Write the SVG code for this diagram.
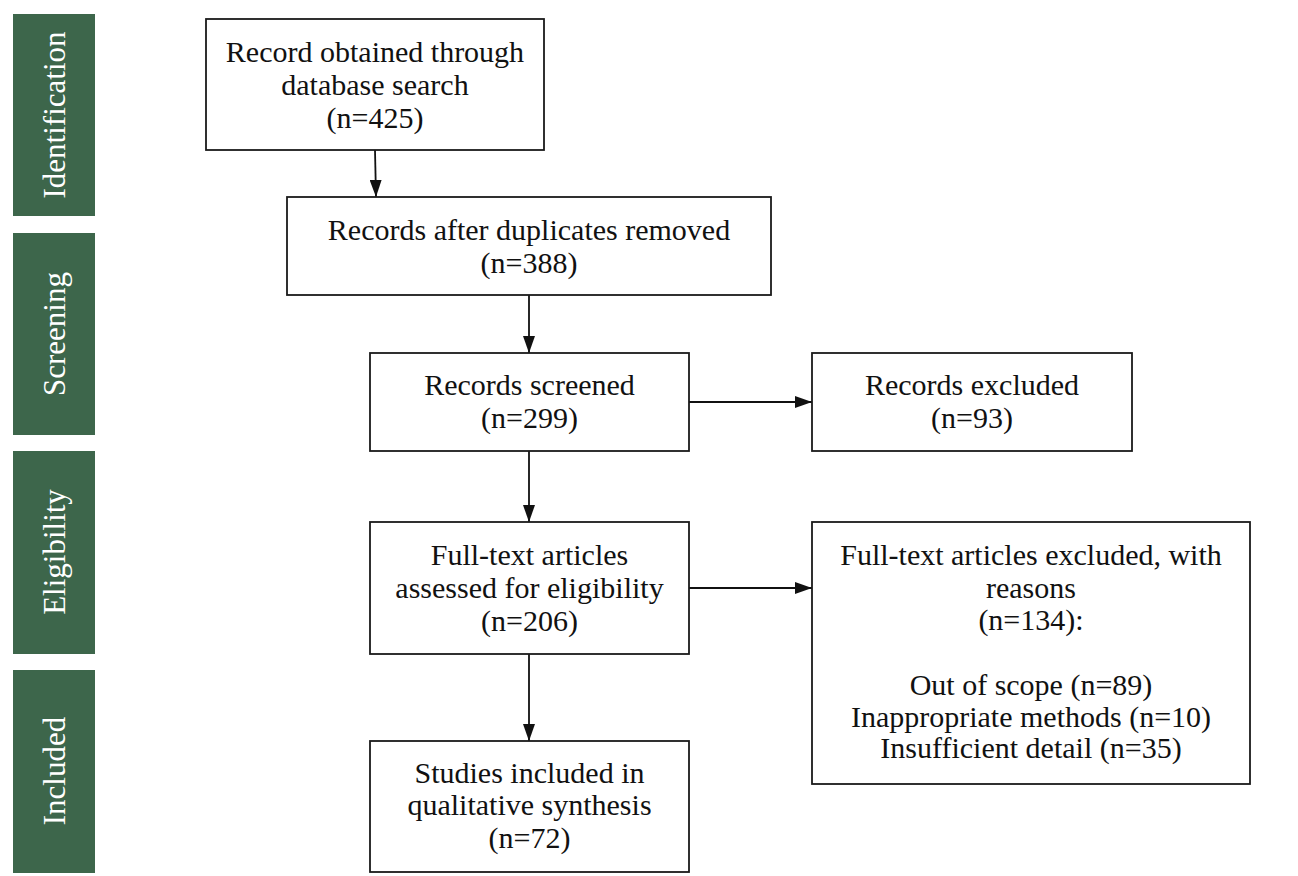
<svg xmlns="http://www.w3.org/2000/svg" width="1298" height="876" viewBox="0 0 1298 876">
<style>
.bar{fill:#3d664b}
.bt{font-family:"Liberation Serif","Times New Roman",serif;font-size:31px;fill:#ffffff;text-anchor:middle}
.box{fill:#ffffff;stroke:#1a1a1a;stroke-width:1.8}
.t{font-family:"Liberation Serif","Times New Roman",serif;font-size:30px;fill:#111111;text-anchor:middle}
.c{stroke:#111111;stroke-width:1.8;fill:none}
</style>
<defs>
<marker id="ah" markerWidth="17" markerHeight="12" refX="17" refY="6" orient="auto" markerUnits="userSpaceOnUse">
<path d="M0,0 L17,6 L0,12 Z" fill="#111111"/>
</marker>
</defs>
<rect width="1298" height="876" fill="#ffffff"/>
<g id="phase-identification">
<rect class="bar" x="13" y="14" width="82" height="202"/>
<text class="bt" transform="translate(65,115) rotate(-90)">Identification</text>
</g>
<g id="phase-screening">
<rect class="bar" x="13" y="233" width="82" height="202"/>
<text class="bt" transform="translate(65,334) rotate(-90)">Screening</text>
</g>
<g id="phase-eligibility">
<rect class="bar" x="13" y="451" width="82" height="203"/>
<text class="bt" transform="translate(65,552) rotate(-90)">Eligibility</text>
</g>
<g id="phase-included">
<rect class="bar" x="13" y="670" width="82" height="203"/>
<text class="bt" transform="translate(65,771) rotate(-90)">Included</text>
</g>
<g id="connectors">
<line class="c" x1="375" y1="150" x2="376" y2="197" marker-end="url(#ah)"/>
<line class="c" x1="529" y1="295" x2="529" y2="353" marker-end="url(#ah)"/>
<line class="c" x1="689" y1="402" x2="812" y2="402" marker-end="url(#ah)"/>
<line class="c" x1="529" y1="451" x2="529" y2="522" marker-end="url(#ah)"/>
<line class="c" x1="689" y1="588" x2="812" y2="588" marker-end="url(#ah)"/>
<line class="c" x1="529" y1="654" x2="529" y2="741" marker-end="url(#ah)"/>
</g>
<g id="node-database">
<rect class="box" x="206" y="19" width="338" height="131"/>
<text class="t" x="375" y="62">Record obtained through</text>
<text class="t" x="375" y="95">database search</text>
<text class="t" x="375" y="128">(n=425)</text>
</g>
<g id="node-duplicates">
<rect class="box" x="287" y="197" width="484" height="98"/>
<text class="t" x="529" y="240">Records after duplicates removed</text>
<text class="t" x="529" y="273">(n=388)</text>
</g>
<g id="node-screened">
<rect class="box" x="370" y="353" width="319" height="98"/>
<text class="t" x="529.5" y="395">Records screened</text>
<text class="t" x="529.5" y="428">(n=299)</text>
</g>
<g id="node-excluded">
<rect class="box" x="812" y="353" width="320" height="98"/>
<text class="t" x="972" y="395">Records excluded</text>
<text class="t" x="972" y="428">(n=93)</text>
</g>
<g id="node-fulltext">
<rect class="box" x="370" y="522" width="319" height="132"/>
<text class="t" x="529.5" y="565">Full-text articles</text>
<text class="t" x="529.5" y="598">assessed for eligibility</text>
<text class="t" x="529.5" y="631">(n=206)</text>
</g>
<g id="node-fulltext-excluded">
<rect class="box" x="812" y="522" width="438" height="262"/>
<text class="t" x="1031" y="565">Full-text articles excluded, with</text>
<text class="t" x="1031" y="598">reasons</text>
<text class="t" x="1031" y="630">(n=134):</text>
<text class="t" x="1031" y="695">Out of scope (n=89)</text>
<text class="t" x="1031" y="727">Inappropriate methods (n=10)</text>
<text class="t" x="1031" y="758">Insufficient detail (n=35)</text>
</g>
<g id="node-included">
<rect class="box" x="370" y="741" width="319" height="131"/>
<text class="t" x="529.5" y="783">Studies included in</text>
<text class="t" x="529.5" y="815">qualitative synthesis</text>
<text class="t" x="529.5" y="848">(n=72)</text>
</g>
</svg>
